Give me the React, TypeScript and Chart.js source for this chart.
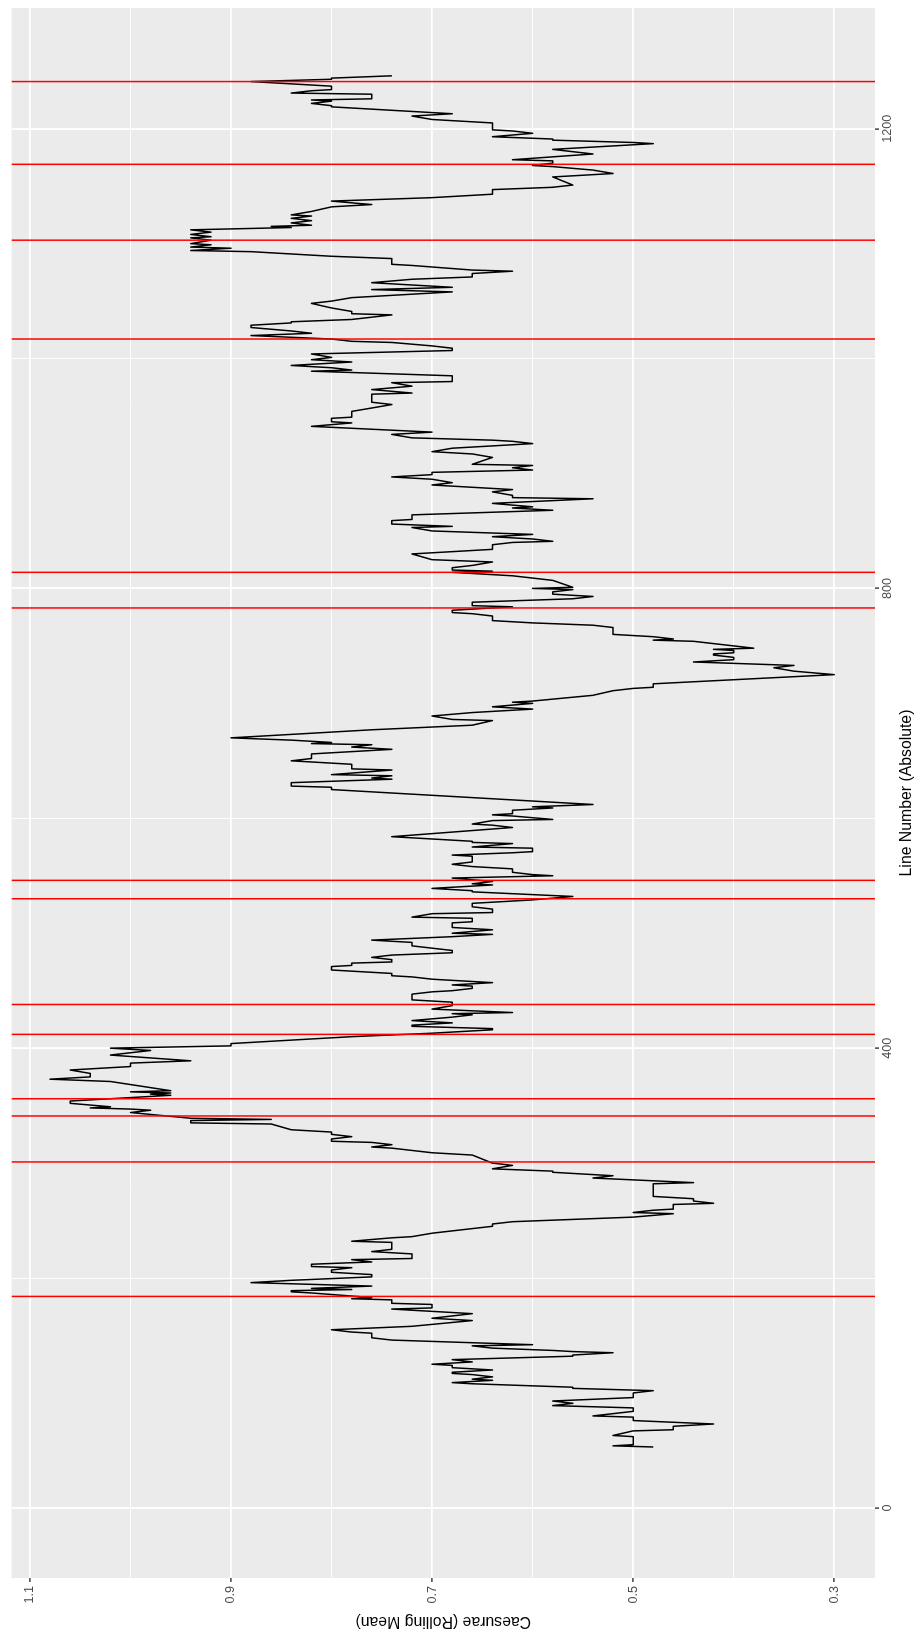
import React, { useEffect, useRef } from "react";
import { Chart, registerables } from "chart.js";

Chart.register(...registerables);

// Rolling-mean line: line number (absolute) and caesurae rolling mean
const LINE_NUMBERS = [
  53, 54, 55, 62, 63, 67, 68, 71, 73, 76,
  79, 80, 84, 87, 89, 91, 93, 96, 100, 102,
  104, 105, 108, 109, 111, 112, 114, 116, 117, 118,
  120, 122, 124, 125, 127, 129, 132, 133, 135, 136,
  137, 139, 141, 142, 146, 148, 152, 153, 155,
  158, 163, 165, 167, 169, 171, 173, 174, 177, 178,
  181, 182, 183, 187, 188, 189, 190, 191, 193, 196,
  198, 201, 203, 205, 207, 209, 210, 212, 214, 216,
  217, 221, 223, 225, 231, 232, 235, 236, 239, 241,
  243, 245, 247, 249, 253, 256, 257, 259, 260, 264,
  265, 267, 269, 271, 282, 283, 287, 289, 290, 292,
  293, 295, 298, 300, 307, 309, 311, 313, 314, 316,
  318, 319, 321, 323, 325, 327, 329, 334, 335, 337,
  338, 339, 344, 346, 347, 348, 349, 352, 354, 359,
  360, 361, 362, 363, 371, 373,
  375, 378, 381, 383, 384, 387, 389, 394, 398, 400,
  402, 404, 409, 410, 413, 416, 417, 419, 420, 422,
  424, 427, 429, 430, 431, 434, 437, 440, 442, 447,
  449, 450, 452, 454, 455, 457, 459, 460, 462, 463,
  465, 467, 468, 471, 472, 474, 475, 477, 479, 481,
  483,
  485, 489, 492, 494, 497, 499, 500, 503, 505, 509,
  510, 513, 514, 517, 518, 521, 523, 526, 529, 532,
  536, 537, 539, 542, 543, 545, 548, 550, 551, 553,
  556, 558, 560, 562, 567, 568, 570, 571, 574, 575,
  578, 579, 580, 584, 592,
  594, 595, 598, 599, 602, 603, 604, 607, 609, 610,
  612, 617, 621, 625, 627, 628, 631, 634, 635, 637,
  638, 642, 643, 647, 650, 652, 656, 660, 662, 664,
  665, 666, 668, 670, 675, 677, 681, 685, 686, 689,
  692, 694, 695, 697, 700, 701, 702,
  707, 711, 713, 714, 717, 725, 728, 731, 733, 736,
  738, 740, 742, 743, 744, 746, 747, 748, 750, 754,
  755, 756, 758, 760, 766, 768, 770, 772, 776, 778,
  779, 781, 782, 784, 785, 788, 791, 793, 795, 797,
  799, 800, 801, 807, 809, 811, 812, 813, 814,
  815, 816, 818, 820, 823, 825, 830, 833, 834, 838,
  840, 841, 843, 845, 847, 850, 853, 854, 856, 859,
  860, 864, 868, 870, 871, 874, 878, 879, 881, 884,
  886, 887, 890, 892, 895, 897, 899, 901, 903, 905,
  907, 908, 914, 917, 919, 922,
  926, 928, 929, 931, 934, 936, 941, 944, 945, 948,
  949, 954, 957, 960, 962, 969, 970, 973, 976, 979,
  980, 985, 989, 990, 992, 994, 997, 999, 1001, 1004,
  1007, 1009, 1011, 1014, 1015, 1017, 1020, 1022, 1024, 1027,
  1029, 1031, 1032,
  1034, 1036, 1038, 1039, 1041, 1044, 1048, 1050, 1053, 1056,
  1058, 1060, 1062, 1064, 1066, 1069, 1071, 1074, 1076, 1077,
  1081, 1082, 1087, 1089, 1093, 1094, 1095, 1096, 1097, 1099,
  1100, 1103, 1105, 1106, 1108, 1110, 1112, 1114, 1115, 1116,
  1118, 1120, 1122, 1124, 1125, 1128, 1132, 1134, 1137, 1140,
  1143, 1147, 1149, 1151, 1158, 1161, 1164, 1167, 1168, 1170,
  1172, 1173, 1178, 1182, 1183, 1186, 1187, 1188, 1190, 1191,
  1193, 1196, 1198, 1199, 1205, 1206, 1208, 1211, 1213, 1216,
  1219, 1220, 1222, 1224, 1225, 1226, 1230, 1231, 1233, 1234,
  1237, 1240, 1241, 1243, 1244, 1246,
];

const ROLLING_MEAN = [
  0.48, 0.52, 0.50, 0.50, 0.52, 0.50, 0.46, 0.46, 0.42, 0.50,
  0.50, 0.54, 0.50, 0.50, 0.58, 0.56, 0.58, 0.50, 0.50, 0.48,
  0.56, 0.56, 0.66, 0.68, 0.64, 0.66, 0.64, 0.66, 0.68, 0.68,
  0.64, 0.68, 0.68, 0.70, 0.66, 0.68, 0.56, 0.56, 0.52, 0.56,
  0.58, 0.64, 0.66, 0.60, 0.74, 0.76, 0.76, 0.78, 0.80,
  0.72, 0.66, 0.70, 0.68, 0.66, 0.70, 0.74, 0.70, 0.70, 0.74,
  0.74, 0.78, 0.76, 0.82, 0.84, 0.84, 0.78, 0.82, 0.76, 0.88,
  0.84, 0.76, 0.76, 0.80, 0.80, 0.78, 0.82, 0.82, 0.76, 0.78,
  0.72, 0.72, 0.76, 0.74, 0.74, 0.78, 0.74, 0.72, 0.70, 0.68,
  0.66, 0.64, 0.64, 0.62, 0.50, 0.46, 0.50, 0.48, 0.46, 0.46,
  0.42, 0.44, 0.44, 0.48, 0.48, 0.44, 0.54, 0.52, 0.54, 0.58,
  0.58, 0.64, 0.62, 0.64, 0.66, 0.70, 0.72, 0.74, 0.76, 0.74,
  0.76, 0.80, 0.80, 0.78, 0.80, 0.80, 0.84, 0.86, 0.94, 0.94,
  0.86, 0.94, 1.00, 0.98, 1.00, 1.04, 1.02, 1.06, 1.06, 0.96,
  0.98, 0.96, 1.00, 0.96, 1.02, 1.08,
  1.04, 1.04, 1.06, 1.02, 1.00, 1.00, 0.94, 1.02, 0.98, 1.02,
  0.90, 0.90, 0.80, 0.78, 0.70, 0.64, 0.64, 0.72, 0.72, 0.68,
  0.72, 0.68, 0.66, 0.68, 0.62, 0.70, 0.68, 0.68, 0.72, 0.72,
  0.70, 0.68, 0.66, 0.66, 0.68, 0.64, 0.68, 0.70, 0.72, 0.74,
  0.74, 0.78, 0.80, 0.80, 0.78, 0.78, 0.74, 0.74, 0.76, 0.74,
  0.68,
  0.68, 0.72, 0.72, 0.76, 0.68, 0.64, 0.68, 0.64, 0.68, 0.68,
  0.66, 0.66, 0.72, 0.70, 0.64, 0.64, 0.66, 0.66, 0.60, 0.56,
  0.66, 0.66, 0.70, 0.64, 0.66, 0.64, 0.68, 0.58, 0.60, 0.62,
  0.62, 0.66, 0.68, 0.66, 0.66, 0.68, 0.62, 0.60, 0.60, 0.66,
  0.62, 0.66, 0.66, 0.74, 0.62,
  0.64, 0.66, 0.64, 0.58, 0.62, 0.64, 0.62, 0.62, 0.58, 0.60,
  0.54, 0.64, 0.72, 0.80, 0.80, 0.84, 0.84, 0.74, 0.76, 0.74,
  0.80, 0.74, 0.78, 0.78, 0.84, 0.82, 0.82, 0.74, 0.78, 0.76,
  0.82, 0.80, 0.84, 0.90, 0.80, 0.76, 0.66, 0.64, 0.68, 0.70,
  0.66, 0.62, 0.60, 0.64, 0.60, 0.62, 0.60,
  0.54, 0.52, 0.50, 0.48, 0.48, 0.30, 0.34, 0.36, 0.34, 0.44,
  0.40, 0.40, 0.42, 0.42, 0.40, 0.40, 0.42, 0.38, 0.40, 0.44,
  0.48, 0.46, 0.48, 0.52, 0.52, 0.54, 0.60, 0.64, 0.64, 0.66,
  0.68, 0.68, 0.66, 0.62, 0.66, 0.66, 0.56, 0.54, 0.58, 0.58,
  0.56, 0.60, 0.56, 0.58, 0.60, 0.62, 0.64, 0.66, 0.68,
  0.64, 0.68, 0.68, 0.66, 0.64, 0.70, 0.72, 0.66, 0.64, 0.64,
  0.62, 0.58, 0.60, 0.64, 0.60, 0.70, 0.72, 0.68, 0.74, 0.74,
  0.72, 0.72, 0.58, 0.62, 0.60, 0.64, 0.54, 0.62, 0.62, 0.64,
  0.62, 0.64, 0.70, 0.68, 0.70, 0.74, 0.70, 0.70, 0.60, 0.62,
  0.60, 0.66, 0.64, 0.66, 0.70, 0.68,
  0.60, 0.62, 0.64, 0.72, 0.74, 0.70, 0.82, 0.78, 0.80, 0.80,
  0.78, 0.78, 0.76, 0.74, 0.76, 0.76, 0.72, 0.76, 0.72, 0.74,
  0.68, 0.68, 0.82, 0.78, 0.80, 0.84, 0.78, 0.82, 0.80, 0.82,
  0.68, 0.68, 0.70, 0.74, 0.78, 0.80, 0.88, 0.82, 0.84, 0.88,
  0.88, 0.84, 0.84,
  0.78, 0.76, 0.74, 0.78, 0.78, 0.80, 0.82, 0.80, 0.78, 0.72,
  0.68, 0.76, 0.68, 0.72, 0.76, 0.72, 0.66, 0.66, 0.62, 0.66,
  0.72, 0.74, 0.74, 0.80, 0.88, 0.94, 0.92, 0.90, 0.94, 0.92,
  0.94, 0.92, 0.94, 0.92, 0.94, 0.92, 0.94, 0.84, 0.86, 0.82,
  0.84, 0.82, 0.84, 0.82, 0.84, 0.82, 0.80, 0.76, 0.80, 0.70,
  0.64, 0.64, 0.58, 0.56, 0.58, 0.52, 0.54, 0.58, 0.60, 0.58,
  0.58, 0.62, 0.54, 0.58, 0.56, 0.50, 0.48, 0.50, 0.58, 0.58,
  0.64, 0.60, 0.62, 0.64, 0.64, 0.66, 0.70, 0.72, 0.68, 0.74,
  0.80, 0.80, 0.82, 0.80, 0.82, 0.76, 0.76, 0.84, 0.82, 0.80,
  0.80, 0.86, 0.88, 0.80, 0.80, 0.74,
];

// Red vertical markers (line numbers)
const MARKER_LINES = [184, 301, 341, 356, 412, 438, 530, 546, 783, 814, 1017, 1103, 1169, 1241];

// Axes
const X_TICKS = [0, 200, 400, 600, 800, 1000, 1200];
const X_TICK_LABELS = ["0", "", "400", "", "800", "", "1200"];
const Y_TICKS = [0.3, 0.4, 0.5, 0.6, 0.7, 0.8, 0.9, 1.0, 1.1];
const Y_TICK_LABELS = ["0.3", "", "0.5", "", "0.7", "", "0.9", "", "1.1"];
const X_MIN = -61;
const X_MAX = 1305;
const Y_MIN = 0.2594;
const Y_MAX = 1.1183;

const X_TITLE = "Line Number (Absolute)";
const Y_TITLE = "Caesurae (Rolling Mean)";

const FONT = "'Liberation Sans', Arial, Helvetica, sans-serif";

export default function App() {
  const ref = useRef<HTMLCanvasElement | null>(null);

  useEffect(() => {
    const canvas = ref.current;
    if (!canvas) return;

    const panelBg = {
      id: "panelBg",
      beforeDraw(chart: any) {
        const { ctx, chartArea } = chart;
        ctx.save();
        ctx.fillStyle = "#FFFFFF";
        ctx.fillRect(0, 0, chart.width, chart.height);
        ctx.fillStyle = "#EBEBEB";
        ctx.fillRect(chartArea.left, chartArea.top, chartArea.right - chartArea.left, chartArea.bottom - chartArea.top);
        ctx.restore();
      },
    };

    const lineData = LINE_NUMBERS.map((x, i) => ({ x, y: ROLLING_MEAN[i] }));
    const markerSets = MARKER_LINES.map((x) => ({
      data: [
        { x, y: Y_MIN },
        { x, y: Y_MAX },
      ],
      borderColor: "#FF0000",
      borderWidth: 1.5,
      showLine: true,
      pointRadius: 0,
      order: 0,
    }));

    const chart = new Chart(canvas, {
      type: "scatter",
      data: {
        datasets: [
          ...markerSets,
          {
            data: lineData,
            borderColor: "#000000",
            borderWidth: 1.5,
            showLine: true,
            pointRadius: 0,
            tension: 0,
            borderJoinStyle: "round",
            order: 1,
          } as any,
        ],
      },
      options: {
        animation: false,
        responsive: false,
        devicePixelRatio: 1,
        events: [],
        layout: { padding: { top: 8, right: 8, left: 0, bottom: 0 } },
        plugins: { legend: { display: false }, tooltip: { enabled: false } },
        scales: {
          x: {
            type: "linear",
            position: "bottom",
            min: X_MIN,
            max: X_MAX,
            afterBuildTicks: (s: any) => {
              s.ticks = X_TICKS.map((v) => ({ value: v }));
            },
            afterFit: (s: any) => {
              s.height = 42;
            },
            ticks: {
              autoSkip: false,
              maxRotation: 0,
              minRotation: 0,
              padding: 1,
              color: "#4D4D4D",
              font: { family: FONT, size: 12.6 },
              callback: (_v: any, i: number) => X_TICK_LABELS[i],
            },
            grid: {
              color: "#FFFFFF",
              lineWidth: (c: any) => (X_TICK_LABELS[c.index] !== "" ? 1.8 : 0.9),
              drawTicks: true,
              tickLength: 4,
              tickWidth: 1.4,
              tickColor: (c: any) => (X_TICK_LABELS[c.index] !== "" ? "#333333" : "rgba(0,0,0,0)"),
            },
            border: { display: false },
            title: {
              display: true,
              text: X_TITLE,
              color: "#000000",
              font: { family: FONT, size: 15.8 },
              padding: { top: 0, bottom: 1 },
            },
          },
          y: {
            type: "linear",
            position: "left",
            min: Y_MIN,
            max: Y_MAX,
            afterBuildTicks: (s: any) => {
              s.ticks = Y_TICKS.map((v) => ({ value: v }));
            },
            afterFit: (s: any) => {
              s.width = 55;
            },
            ticks: {
              autoSkip: false,
              padding: 4,
              color: "#4D4D4D",
              font: { family: FONT, size: 12.6 },
              callback: (_v: any, i: number) => Y_TICK_LABELS[i],
            },
            grid: {
              color: "#FFFFFF",
              lineWidth: (c: any) => (Y_TICK_LABELS[c.index] !== "" ? 1.8 : 0.9),
              drawTicks: true,
              tickLength: 4,
              tickWidth: 1.4,
              tickColor: (c: any) => (Y_TICK_LABELS[c.index] !== "" ? "#333333" : "rgba(0,0,0,0)"),
            },
            border: { display: false },
            title: {
              display: true,
              text: Y_TITLE,
              color: "#000000",
              font: { family: FONT, size: 15.8 },
              padding: { top: 2, bottom: 0 },
            },
          },
        },
      },
      plugins: [panelBg],
    } as any);

    return () => chart.destroy();
  }, []);

  return (
    <div
      style={{
        position: "fixed",
        left: 0,
        top: 0,
        width: 917,
        height: 1633,
        overflow: "hidden",
        background: "#FFFFFF",
      }}
    >
      <canvas
        ref={ref}
        width={1633}
        height={917}
        style={{
          position: "absolute",
          left: 0,
          top: 0,
          width: "1633px",
          height: "917px",
          transformOrigin: "0 0",
          transform: "translateY(1633px) rotate(-90deg)",
        }}
      />
    </div>
  );
}
